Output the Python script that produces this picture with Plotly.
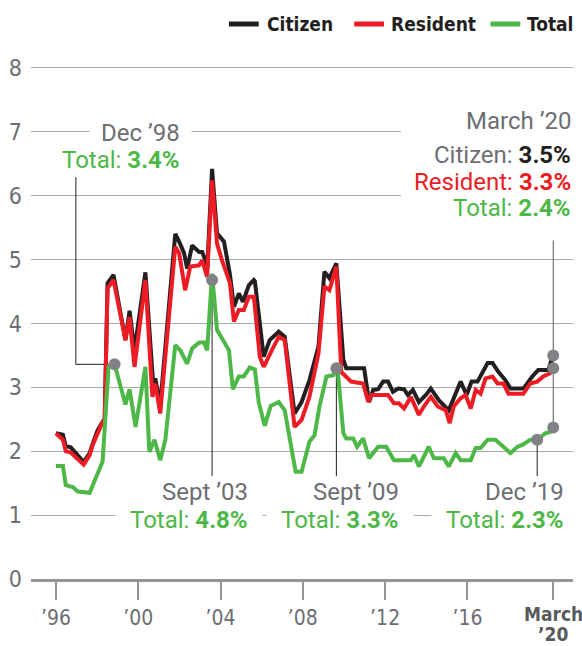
import plotly.graph_objects as go

# ---------------- data (decimal years, unemployment rate %) ----------------
citizen_x = [1996.00, 1996.34, 1996.48, 1996.72, 1997.35, 1997.64, 1997.79, 1998.03, 1998.27, 1998.37,
             1998.51, 1998.80, 1999.38, 1999.58, 1999.82, 2000.35, 2000.74, 2000.83, 2001.07, 2001.80,
             2001.99, 2002.23, 2002.38, 2002.62, 2002.96, 2003.11, 2003.25, 2003.35, 2003.59, 2003.83,
             2004.17, 2004.46, 2004.65, 2004.89, 2005.09, 2005.38, 2005.62, 2005.67, 2006.10, 2006.39,
             2006.83, 2007.12, 2007.60, 2007.94, 2008.32, 2008.76, 2009.05, 2009.29, 2009.63, 2009.97,
             2010.11, 2010.98, 2011.22, 2011.42, 2011.66, 2011.90, 2012.14, 2012.38, 2012.63, 2012.92,
             2013.11, 2013.35, 2013.64, 2013.98, 2014.22, 2014.61, 2015.09, 2015.53, 2015.67, 2015.96,
             2016.20, 2016.49, 2016.98, 2017.22, 2017.51, 2017.85, 2018.09, 2018.72, 2019.15, 2019.44,
             2019.92, 2020.17]
citizen_y = [2.28, 2.26, 2.08, 2.06, 1.83, 1.97, 2.12, 2.33, 2.46, 2.50,
             4.63, 4.76, 3.74, 4.20, 3.58, 4.80, 3.00, 3.14, 2.72, 5.40,
             5.28, 5.10, 4.86, 5.22, 5.12, 5.12, 5.00, 4.84, 6.42, 5.41,
             5.28, 4.76, 4.26, 4.47, 4.34, 4.60, 4.68, 4.66, 3.48, 3.74,
             3.87, 3.79, 2.59, 2.77, 3.11, 3.64, 4.81, 4.71, 4.94, 3.43,
             3.30, 3.30, 2.77, 2.96, 2.97, 3.09, 3.09, 2.93, 2.98, 2.97,
             2.88, 2.96, 2.77, 2.88, 2.98, 2.80, 2.64, 3.01, 3.09, 2.88,
             3.09, 3.09, 3.38, 3.38, 3.24, 3.11, 2.98, 2.98, 3.17, 3.27,
             3.27, 3.50]

resident_x = [1996.00, 1996.34, 1996.48, 1996.72, 1997.35, 1997.64, 1997.79, 1998.03, 1998.27, 1998.37,
              1998.51, 1998.80, 1999.38, 1999.58, 1999.82, 2000.35, 2000.69, 2000.83, 2001.07, 2001.80,
              2001.99, 2002.28, 2002.53, 2002.96, 2003.11, 2003.35, 2003.59, 2003.83, 2004.07, 2004.46,
              2004.65, 2004.89, 2005.13, 2005.38, 2005.62, 2005.91, 2006.10, 2006.49, 2006.83, 2007.12,
              2007.60, 2007.94, 2008.32, 2008.76, 2009.05, 2009.29, 2009.63, 2009.87, 2010.35, 2010.93,
              2011.18, 2011.32, 2012.14, 2012.43, 2012.67, 2012.92, 2013.25, 2013.64, 2013.88, 2014.22,
              2014.56, 2014.95, 2015.14, 2015.33, 2015.67, 2015.91, 2016.16, 2016.40, 2016.64, 2016.88,
              2017.22, 2017.46, 2017.75, 2017.99, 2018.72, 2019.05, 2019.39, 2019.68, 2020.02, 2020.17]
resident_y = [2.28, 2.18, 2.00, 1.98, 1.79, 1.94, 2.10, 2.30, 2.46, 2.46,
              4.55, 4.68, 3.74, 4.10, 3.32, 4.68, 2.85, 3.06, 2.59, 5.20,
              5.10, 4.52, 4.89, 4.91, 4.99, 4.73, 6.24, 5.25, 4.99, 4.63,
              4.03, 4.21, 4.21, 4.42, 4.42, 3.48, 3.32, 3.58, 3.79, 3.74,
              2.38, 2.49, 2.85, 3.53, 4.58, 4.52, 4.89, 3.24, 3.09, 3.06,
              2.77, 2.88, 2.88, 2.75, 2.75, 2.67, 2.85, 2.57, 2.70, 2.85,
              2.70, 2.64, 2.44, 2.70, 2.83, 2.88, 2.67, 2.96, 2.90, 3.14,
              3.17, 3.06, 3.06, 2.90, 2.90, 3.06, 3.09, 3.17, 3.22, 3.30]

total_x = [1996.00, 1996.34, 1996.48, 1996.82, 1997.06, 1997.64, 1998.27, 1998.56, 1998.85, 1999.38,
           1999.58, 1999.87, 2000.35, 2000.54, 2000.79, 2001.07, 2001.32, 2001.80, 2002.04, 2002.38,
           2002.62, 2002.96, 2003.20, 2003.35, 2003.59, 2003.83, 2004.41, 2004.60, 2004.89, 2005.13,
           2005.42, 2005.67, 2005.86, 2006.15, 2006.44, 2006.83, 2007.12, 2007.65, 2007.94, 2008.32,
           2008.57, 2008.81, 2009.15, 2009.48, 2009.68, 2009.97, 2010.11, 2010.45, 2010.64, 2010.93,
           2011.22, 2011.66, 2012.05, 2012.43, 2013.25, 2013.40, 2013.64, 2014.12, 2014.37, 2014.85,
           2015.09, 2015.43, 2015.67, 2016.16, 2016.40, 2016.64, 2016.98, 2017.36, 2017.75, 2018.09,
           2018.43, 2018.67, 2019.05, 2019.39, 2019.78, 2020.02, 2020.17]
total_y = [1.77, 1.77, 1.47, 1.44, 1.37, 1.35, 1.84, 3.32, 3.36, 2.73,
           2.97, 2.38, 3.32, 1.99, 2.18, 1.86, 2.18, 3.66, 3.58, 3.37,
           3.61, 3.70, 3.70, 3.58, 4.78, 3.90, 3.58, 2.97, 3.17, 3.17,
           3.31, 3.28, 2.76, 2.40, 2.71, 2.77, 2.64, 1.68, 1.68, 2.15,
           2.25, 2.70, 3.17, 3.19, 3.32, 2.28, 2.20, 2.20, 2.07, 2.20,
           1.89, 2.07, 2.07, 1.86, 1.86, 1.94, 1.76, 2.07, 1.89, 1.89,
           1.76, 1.97, 1.86, 1.86, 2.05, 2.05, 2.18, 2.18, 2.07, 1.97,
           2.07, 2.10, 2.18, 2.18, 2.28, 2.30, 2.37]

# highlighted observations (gray dots)
highlight_x = [1998.85, 2003.59, 2009.63, 2019.39, 2020.17, 2020.17, 2020.17]
highlight_y = [3.36, 4.68, 3.30, 2.18, 3.50, 3.30, 2.37]

tick_vals = [1996, 2000, 2004, 2008, 2012, 2016, 2020.17]
tick_text = ["’96", "’00", "’04", "’08", "’12", "’16", ""]
last_tick_lines = ["<b>March</b>", "<b>’20</b>"]
y_ticks = [0, 1, 2, 3, 4, 5, 6, 7, 8]

# ---------------- style ----------------
BLACK = "#231f20"
RED = "#ed1c24"
GREEN = "#4db848"
GRAY_TXT = "#6d6e71"
GRID = "#a7a9ac"
DOT = "#808285"
NARROW = "Liberation Sans Narrow, DejaVu Sans Condensed, Roboto, sans-serif"
ANN = "Roboto, Liberation Sans, sans-serif"

fig = go.Figure()
fig.add_trace(go.Scatter(x=citizen_x, y=citizen_y, mode="lines", name="Citizen",
                         line=dict(color=BLACK, width=4), showlegend=False))
fig.add_trace(go.Scatter(x=resident_x, y=resident_y, mode="lines", name="Resident",
                         line=dict(color=RED, width=4), showlegend=False))
fig.add_trace(go.Scatter(x=total_x, y=total_y, mode="lines", name="Total",
                         line=dict(color=GREEN, width=4), showlegend=False))
fig.add_trace(go.Scatter(x=highlight_x, y=highlight_y, mode="markers", showlegend=False,
                         marker=dict(color=DOT, size=12, line=dict(width=0))))

L, R, T, B = 28, 9, 66, 67
W, H = 582, 646
PW, PH = W - L - R, H - T - B


def xp(px):
    return (px - L) / PW


def yp(py):
    return (H - B - py) / PH


shapes = []
# leader lines
leader_bottom = 1.61
for hx, hy in zip(highlight_x[1:4], highlight_y[1:4]):
    shapes.append(dict(type="line", xref="x", yref="y", x0=hx, x1=hx, y0=hy, y1=leader_bottom,
                       line=dict(color=BLACK, width=1), layer="between"))
# Dec '98 elbow
shapes.append(dict(type="path", xref="x", yref="y",
                   path=f"M 1996.97 6.29 L 1996.97 {highlight_y[0]} L {highlight_x[0]} {highlight_y[0]}",
                   line=dict(color=BLACK, width=1), layer="between"))
# March '20 leader
shapes.append(dict(type="line", xref="x", yref="y", x0=highlight_x[4], x1=highlight_x[4],
                   y0=5.3, y1=highlight_y[6], line=dict(color="#58595b", width=1), layer="between"))
# white panel behind the March '20 readout (hides gridlines)
shapes.append(dict(type="rect", xref="paper", yref="paper", x0=xp(400), x1=xp(582),
                   y0=yp(228), y1=yp(104), fillcolor="white", line=dict(width=0), layer="above"))

# custom legend
legend_items = [("Citizen", BLACK, 227, 257, 263), ("Resident", RED, 353, 383, 388),
                ("Total", GREEN, 490, 520, 525)]
annotations = []
for name, col, s0, s1, tx in legend_items:
    shapes.append(dict(type="line", xref="paper", yref="paper", x0=xp(s0), x1=xp(s1),
                       y0=yp(24), y1=yp(24), line=dict(color=col, width=5)))
    annotations.append(dict(xref="paper", yref="paper", x=xp(tx), y=yp(24), xanchor="left",
                            yanchor="middle", showarrow=False, text=f"<b>{name}</b>",
                            font=dict(family=NARROW, size=19, color=BLACK)))


def label(text, right_px, center_py, color, bg=False, pad=0, size=24):
    annotations.append(dict(xref="paper", yref="paper", x=xp(right_px + pad + 1), y=yp(center_py),
                            xanchor="right", yanchor="middle", align="right", showarrow=False,
                            text=text, font=dict(family=ANN, size=size, color=color),
                            bgcolor="white" if bg else "rgba(0,0,0,0)", borderpad=pad))


label("Dec ’98", 178, 133, GRAY_TXT, bg=True, pad=11)
label("Total: <b>3.4%</b>", 178, 160, GREEN)
for name, val, rx in [("Sept ’03", "4.8%", 246), ("Sept ’09", "3.3%", 398), ("Dec ’19", "2.3%", 564)]:
    label(f"Total: <b>{val}</b>", rx, 520, GREEN, bg=True, pad=14)
    label(name, rx, 492, GRAY_TXT)
label("March ’20", 571, 121, GRAY_TXT)
label(f"Citizen: <span style='color:{BLACK}'><b>3.5%</b></span>", 571, 155, GRAY_TXT)
label("Resident: <b>3.3%</b>", 571, 182, RED)
label("Total: <b>2.4%</b>", 571, 208, GREEN)

# last x tick label (two lines, bold)
for txt, cy in zip(last_tick_lines, [614, 634]):
    annotations.append(dict(xref="x", yref="paper", x=tick_vals[-1], y=yp(cy), xanchor="center",
                            yanchor="middle", showarrow=False, text=txt,
                            font=dict(family=NARROW, size=19, color="#58595b")))

fig.update_layout(
    width=W, height=H, margin=dict(l=L, r=R, t=T, b=B),
    paper_bgcolor="white", plot_bgcolor="white",
    shapes=shapes, annotations=annotations,
    xaxis=dict(range=[1994.79, 2021.13], tickvals=tick_vals, ticktext=tick_text,
               showgrid=False, zeroline=False, showline=True, linecolor="#939598", linewidth=3,
               ticks="outside", ticklen=18, tickwidth=1.5, tickcolor="#939598",
               tickfont=dict(family=NARROW, size=21, color=GRAY_TXT)),
    yaxis=dict(range=[0, 8.03], tickvals=y_ticks, showgrid=True, gridcolor=GRID, gridwidth=1.3,
               zeroline=False, showline=False, ticks="", ticklabelstandoff=8,
               tickfont=dict(family=NARROW, size=23, color=GRAY_TXT)),
)

fig.write_html("out.html", config={"displayModeBar": False},
               post_script="document.body.style.margin='0';document.body.style.padding='0';")
